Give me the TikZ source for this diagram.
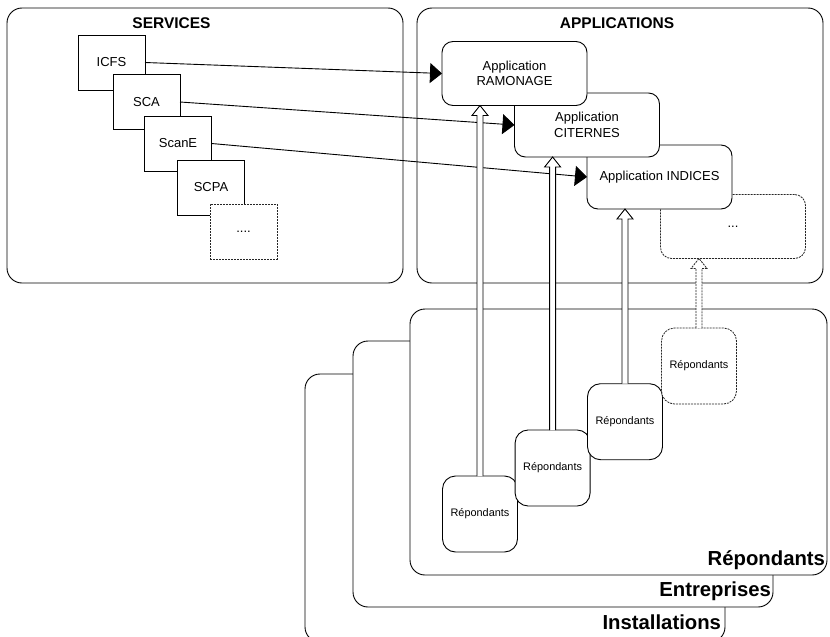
\documentclass[tikz,border=0pt]{standalone}
\usepackage{fontspec}
\setmainfont{Liberation Sans}
\usetikzlibrary{arrows.meta,calc}
\tikzset{
  every node/.style={inner sep=0pt, outer sep=0pt},
  bigbox/.style={draw, line width=0.9pt, fill=white, rounded corners=15pt},
  sbox/.style={draw, line width=0.9pt, fill=white, minimum width=67pt, minimum height=55pt,
    font=\fontsize{13}{15.5}\selectfont},
  abox/.style={draw, line width=0.9pt, fill=white, minimum width=145pt, minimum height=64pt,
    rounded corners=11pt, align=center, font=\fontsize{13}{15.5}\selectfont},
  rbox/.style={draw, line width=0.9pt, fill=white, minimum width=75pt, minimum height=76pt,
    rounded corners=13pt, font=\fontsize{10.9}{13}\selectfont},
  dbox/.style={draw=black!85, line width=0.8pt, dash pattern=on 2pt off 1pt},
  titletext/.style={font=\fontsize{15.5}{18}\selectfont\bfseries},
  biglabel/.style={font=\fontsize{20.3}{24}\selectfont\bfseries},
  svcarrow/.style={line width=0.9pt, -{Triangle[length=12pt,width=20pt]}},
  harrow/.style={draw, line width=0.9pt, fill=white, line join=miter},
}
\newcommand\hollowarr[3][]{%
  \draw[harrow,#1] let \p1=(#2), \p2=(#3) in
  (\x1-3pt,\y1) -- (\x1-3pt,\y2-10pt) -- (\x1-8pt,\y2-10pt) -- (\x1,\y2)
  -- (\x1+8pt,\y2-10pt) -- (\x1+3pt,\y2-10pt) -- (\x1+3pt,\y1);}
\begin{document}
\begin{tikzpicture}[x=1pt,y=-1pt]
\useasboundingbox (0,0) rectangle (830,637);

% SERVICES
\node[bigbox, minimum width=396pt, minimum height=275pt] (serv) at (205,145.5) {};
\node[titletext, anchor=base] (servt) at (171.5,28) {SERVICES};
\node[sbox] (icfs) at (111.5,62.5) {ICFS};
\node[sbox] (sca) at (146.5,102) {SCA};
\node[sbox] (scane) at (178,143.5) {ScanE};
\node[sbox] (scpa) at (211,187.5) {SCPA};
\node[sbox, dbox] (sdot) at (243.5,231.5) {....};

% APPLICATIONS
\node[bigbox, minimum width=406pt, minimum height=275pt] (apps) at (620,145.5) {};
\node[titletext, anchor=base] (appt) at (617,28) {APPLICATIONS};
\node[abox, dbox] (adot) at (733,226.5) {...};
\node[abox] (ind) at (659.5,177) {Application INDICES};
\node[abox] (cit) at (587,125) {Application\\CITERNES};
\node[abox] (ram) at (514.5,73.5) {Application\\RAMONAGE};

% Lower stacked boxes
\node[bigbox, minimum width=420pt, minimum height=268pt] (inst) at (515,508) {};
\node[bigbox, minimum width=420pt, minimum height=266pt] (ent) at (563,474) {};
\node[bigbox, minimum width=417pt, minimum height=266pt] (rep) at (618.5,442) {};
\node[biglabel, anchor=base east] (repl) at (825,565) {Répondants};
\node[biglabel, anchor=base east] (entl) at (771,596) {Entreprises};
\node[biglabel, anchor=base east] (instl) at (721,629) {Installations};

% Small Répondants boxes
\node[rbox] (r1) at (480,514) {Répondants};
\node[rbox] (r2) at (552.6,468) {Répondants};
\node[rbox] (r3) at (625,421.7) {Répondants};
\node[rbox, dbox] (r4) at (699,366) {Répondants};

% service arrows
\draw[svcarrow] (icfs.east) -- (ram.west);
\draw[svcarrow] (sca.east) -- (cit.west);
\draw[svcarrow] (scane.east) -- (ind.west);

% hollow arrows
\hollowarr{r1.north}{ram.south}
\hollowarr{r2.north}{cit.south}
\hollowarr{r3.north}{ind.south}
\hollowarr[dbox]{r4.north}{adot.south}
\end{tikzpicture}
\end{document}
